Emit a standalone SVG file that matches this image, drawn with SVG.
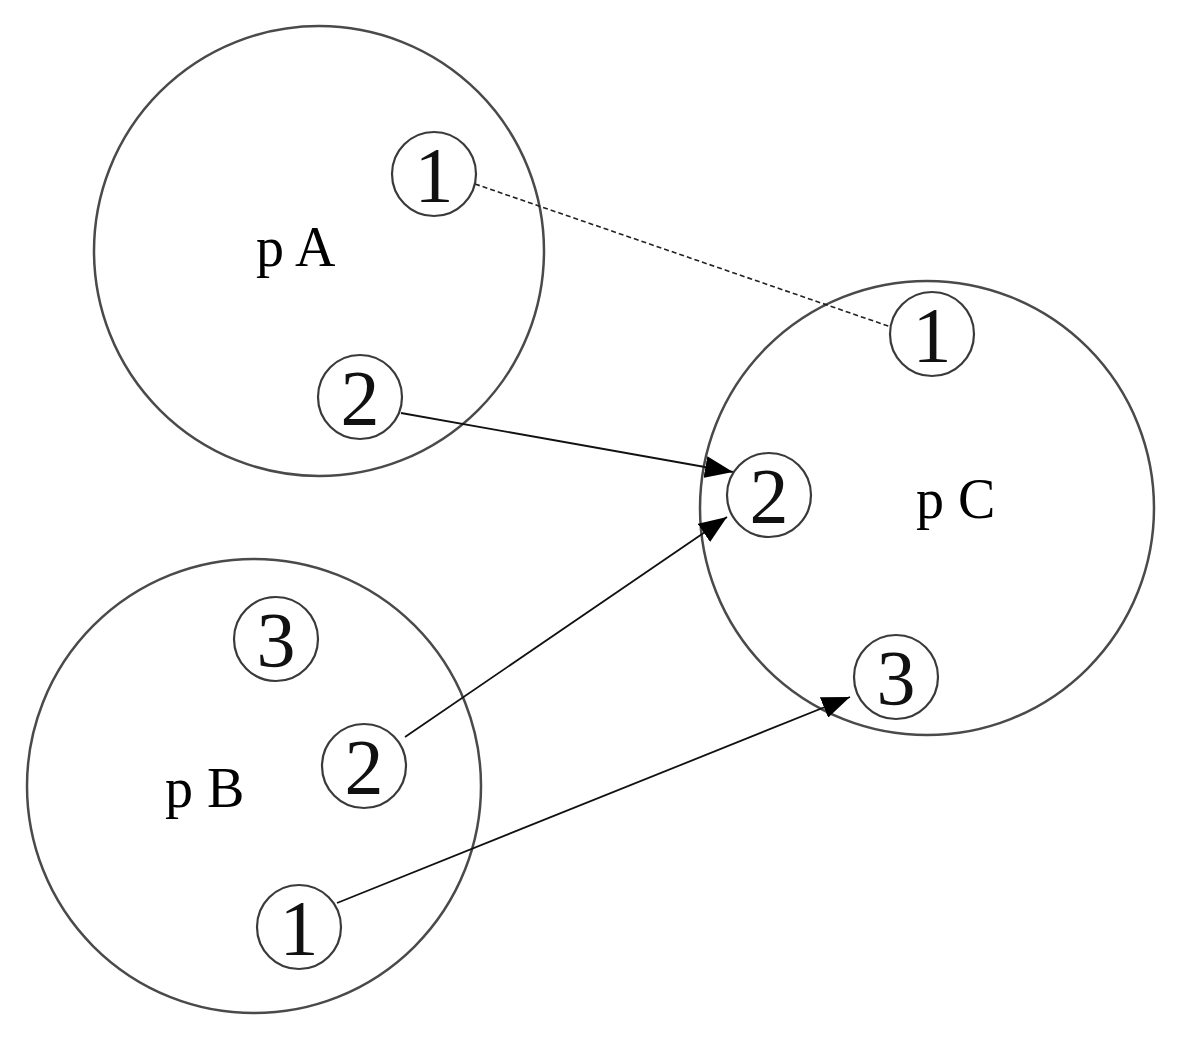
<svg xmlns="http://www.w3.org/2000/svg" width="1179" height="1039" viewBox="0 0 1179 1039">
<style>
.big{fill:none;stroke:#4a4a4a;stroke-width:2.5}
.small{fill:#fff;stroke:#3a3a3a;stroke-width:2.2}
.lbl{font-family:"Liberation Serif",serif;font-size:56px;fill:#000}
.num{font-family:"Liberation Serif",serif;font-size:78px;fill:#111;text-anchor:middle}
.edge{stroke:#111;stroke-width:1.8;fill:none}
.dash{stroke:#222;stroke-width:1.6;fill:none;stroke-dasharray:5,3}
</style>
<defs>
<marker id="arr" markerUnits="userSpaceOnUse" markerWidth="30" markerHeight="22" refX="28" refY="11" orient="auto">
<path d="M0,0 L28,11 L0,22 Z" fill="#000"/>
</marker>
</defs>
<rect width="1179" height="1039" fill="#fff"/>
<g id="pA">
<circle class="big" cx="319" cy="251" r="225"/>
<text class="lbl" x="256" y="266">p A</text>
</g>
<g id="pB">
<circle class="big" cx="254" cy="786" r="227"/>
<text class="lbl" x="165" y="807">p B</text>
</g>
<g id="pC">
<circle class="big" cx="927" cy="508" r="227"/>
<text class="lbl" x="916" y="518">p C</text>
</g>
<g id="connectors">
<line class="dash" x1="475" y1="184" x2="891" y2="327"/>
<line class="edge" x1="401" y1="413" x2="733" y2="472" marker-end="url(#arr)"/>
<line class="edge" x1="405" y1="737" x2="727" y2="517" marker-end="url(#arr)"/>
<line class="edge" x1="337" y1="903" x2="850" y2="697" marker-end="url(#arr)"/>
</g>
<g id="A1"><circle class="small" cx="434" cy="174" r="42"/><text class="num" x="434" y="201">1</text></g>
<g id="A2"><circle class="small" cx="360" cy="397" r="42"/><text class="num" x="360" y="424">2</text></g>
<g id="B3"><circle class="small" cx="276" cy="639" r="42"/><text class="num" x="276" y="666">3</text></g>
<g id="B2"><circle class="small" cx="364" cy="766" r="42"/><text class="num" x="364" y="793">2</text></g>
<g id="B1"><circle class="small" cx="299" cy="927" r="42"/><text class="num" x="299" y="954">1</text></g>
<g id="C1"><circle class="small" cx="932" cy="334" r="42"/><text class="num" x="932" y="361">1</text></g>
<g id="C2"><circle class="small" cx="769" cy="495" r="42"/><text class="num" x="769" y="522">2</text></g>
<g id="C3"><circle class="small" cx="896" cy="677" r="42"/><text class="num" x="896" y="704">3</text></g>
</svg>
